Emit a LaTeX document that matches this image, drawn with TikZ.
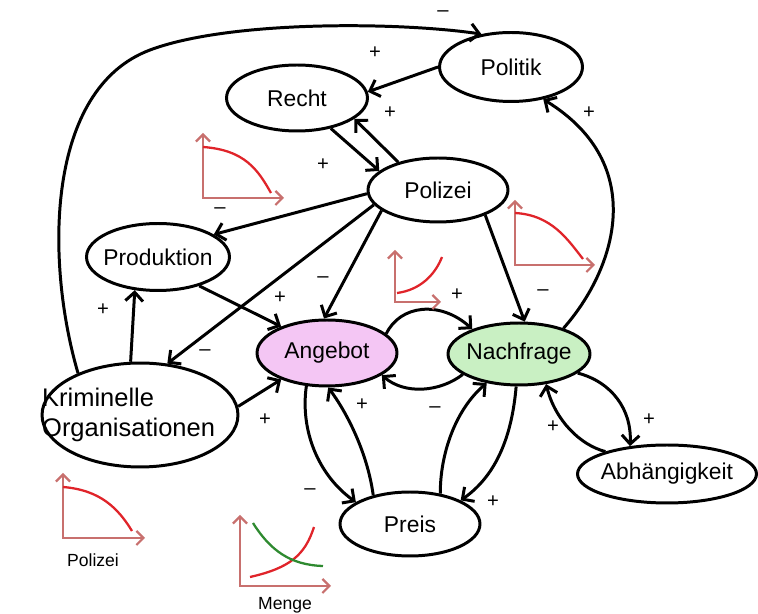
\documentclass[tikz,border=0pt]{standalone}
\usepackage{fontspec}
\setmainfont{Liberation Sans}
\usetikzlibrary{arrows.meta,shapes.geometric}
\definecolor{SupplyPink}{HTML}{F4C6F4}
\definecolor{DemandGreen}{HTML}{C9F0C3}
\definecolor{AxisRed}{HTML}{C8706E}
\definecolor{CurveRed}{HTML}{E0242A}
\definecolor{CurveGreen}{HTML}{2E8A30}

\begin{document}
\begin{tikzpicture}[x=0.02cm,y=-0.02cm,
  ell/.style={draw,ellipse,line width=1.7pt,inner sep=-20pt,font=\fontsize{13}{15}\selectfont},
  conn/.style={line width=1.7pt,-{Straight Barb[length=5pt,width=10pt]}},
  sign/.style={font=\fontsize{11.5}{12}\selectfont,inner sep=0pt},
  axisline/.style={AxisRed,line width=1.3pt,{Straight Barb[length=4pt,width=8pt]}-{Straight Barb[length=4pt,width=8pt]}},
  curvered/.style={CurveRed,line width=1.3pt},
  curvegreen/.style={CurveGreen,line width=1.3pt},
  caption/.style={font=\fontsize{10}{12}\selectfont}]
  \useasboundingbox (0,0) rectangle (758,614);
  % factors
  \node[ell,minimum width=2.86cm,minimum height=1.38cm] (pol) at (511,67) {Politik};
  \node[ell,minimum width=2.82cm,minimum height=1.32cm] (recht) at (297,98) {Recht};
  \node[ell,minimum width=2.80cm,minimum height=1.28cm] (poliz) at (438,190) {Polizei};
  \node[ell,minimum width=2.86cm,minimum height=1.34cm] (prod) at (158,257) {Produktion};
  \node[ell,fill=SupplyPink,minimum width=2.80cm,minimum height=1.32cm] (ang) at (327,353) {Angebot};
  \node[ell,fill=DemandGreen,minimum width=2.84cm,minimum height=1.24cm] (nach) at (519,354) {Nachfrage};
  \node[ell,align=left,font=\fontsize{14.5}{17}\selectfont,minimum width=3.92cm,minimum height=2.08cm] (krim) at (140,415) {Kriminelle\\Organisationen\hspace*{13pt}};
  \node[ell,minimum width=2.80cm,minimum height=1.28cm] (preis) at (410,524) {Preis};
  \node[ell,minimum width=3.58cm,minimum height=1.16cm] (abh) at (667,474) {Abhängigkeit};

  % links
  \draw[conn] (krim.146) .. controls (45,260) and (46,89) .. (150,50) .. controls (230,20) and (400,22) .. (pol.132);
  \draw[conn] (pol.west) -- (recht.5);
  \draw[conn] (poliz.145) -- (recht.-20);
  \draw[conn] (recht.-42) -- (poliz.162);
  \draw[conn] (poliz.183) -- (prod.22);
  \draw[conn] (poliz.193) -- (krim.62);
  \draw[conn] (poliz.200) -- (ang.95);
  \draw[conn] (poliz.-28) -- (nach.80);
  \draw[conn] (prod.-35) -- (ang.150);
  \draw[conn] (krim.100) -- (prod.-125);
  \draw[conn] (krim.5) -- (ang.210);
  \draw[conn] (ang.18) .. controls (400,305) and (440,300) .. (nach.152);
  \draw[conn] (nach.200) .. controls (440,392) and (405,395) .. (ang.-22);
  \draw[conn] (ang.-122) .. controls (300,430) and (318,475) .. (preis.158);
  \draw[conn] (preis.142) .. controls (367,450) and (345,410) .. (ang.-88);
  \draw[conn] (preis.45) .. controls (440,455) and (455,410) .. (nach.-138);
  \draw[conn] (nach.-95) .. controls (512,435) and (497,475) .. (preis.25);
  \draw[conn] (nach.30) .. controls (615,270) and (650,165) .. (pol.-45);
  \draw[conn] (nach.-18) .. controls (612,382) and (632,410) .. (abh.143);
  \draw[conn] (abh.160) .. controls (580,445) and (555,420) .. (nach.-48);

  % signs
  \foreach \x/\y/\s [count=\i] in {443/14/\textendash,375/53/+,390/113/+,589/113/+,323/165/+,
      220/211/\textendash,323/280/\textendash,280/298/+,103/310/+,205/353/\textendash,
      265/420/+,457/295/+,543/293/\textendash,362/405/+,435/410/\textendash,
      310/492/\textendash,493/502/+,649/420/+,553/427/+}
    \node[sign] (s\i) at (\x,\y) {\s};

  % small graphs
  \draw[axisline] (203,133) -- (203,198) -- (284,198);
  \draw[curvered] (203,147) .. controls (245,150) and (258,170) .. (271,193);
  \draw[axisline] (515,200) -- (515,265) -- (595,265);
  \draw[curvered] (515,213) .. controls (552,215) and (568,240) .. (583,259);
  \draw[axisline] (395,250) -- (395,302) -- (441,302);
  \draw[curvered] (397,293) .. controls (420,290) and (435,275) .. (442,257);
  \draw[axisline] (63,473) -- (63,538) -- (145,538);
  \draw[curvered] (63,487) .. controls (100,490) and (118,508) .. (132,531);
  \node[caption] (cappoliz) at (93,560) {Polizei};
  \draw[axisline] (240,515) -- (240,586) -- (331,586);
  \draw[curvered] (250,577) .. controls (290,568) and (305,555) .. (314,527);
  \draw[curvegreen] (253,523) .. controls (270,550) and (290,565) .. (323,566);
  \node[caption] (capmenge) at (285,605) {Menge};
\end{tikzpicture}
\end{document}
